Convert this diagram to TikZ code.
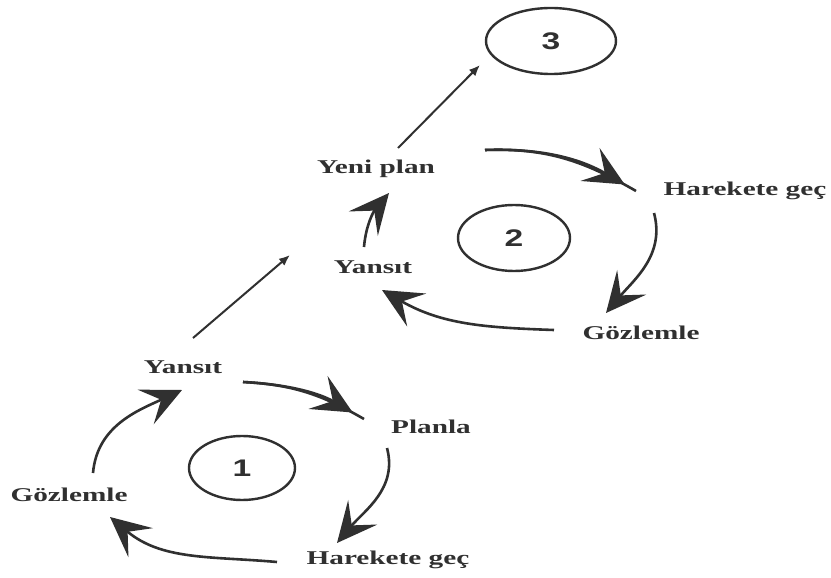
\documentclass[tikz,border=0pt]{standalone}
\usepackage{fontspec}
\usetikzlibrary{arrows.meta,shapes.geometric}
\newfontfamily\labfont[FakeStretch=1.5]{Liberation Serif}
\newfontfamily\numfont[FakeStretch=1.4]{Liberation Sans}
\definecolor{ink}{HTML}{303030}
\begin{document}
\begin{tikzpicture}[x=1pt,y=1pt,
  lab/.style={text=ink,inner sep=0pt,font=\labfont\bfseries\fontsize{19.5}{20}\selectfont},
  cyc/.style={draw=ink,line width=2.4pt,ellipse,minimum width=#1,minimum height=66pt,inner sep=0pt,
              font=\numfont\bfseries\fontsize{24}{24}\selectfont,text=ink},
  bighead/.style={-{Stealth[length=40pt,width=38pt,inset=17pt]}},
  % curved arrow with the head at its end
  turn/.style={draw=ink,line width=2.6pt,bighead},
  % curved arrow whose line runs on #1 past the head
  turnpast/.style={draw=ink,line width=2.6pt,
               postaction={draw=ink,line width=2.6pt,shorten >=#1,bighead}},
  lift/.style={draw=ink,line width=2pt,-{Latex[length=11pt,width=9pt]}}
]
\useasboundingbox (0,-578) rectangle (831,0);
\fill[white] (0,-578) rectangle (831,0);

% cycle numbers
\node[cyc=130pt] (n3) at (551,-41) {3};
\node[cyc=112pt] (n2) at (514,-238) {2};
\node[cyc=106pt,minimum height=64pt] (n1) at (242,-468) {1};

% first cycle labels
\node[lab] (y1) at (183,-367) {Yansıt};
\node[lab] (p1) at (431,-427) {Planla};
\node[lab] (h1) at (388,-560) {Harekete geç};
\node[lab] (g1) at (69,-495) {Gözlemle};

% second cycle labels
\node[lab] (yp2) at (376,-169) {Yeni plan};
\node[lab] (h2) at (745,-191) {Harekete geç};
\node[lab] (g2) at (641,-333) {Gözlemle};
\node[lab] (y2) at (373,-267) {Yansıt};

% end points of the connectors
\coordinate (a1s) at (243,-382); \coordinate (a1e) at (364,-419);
\coordinate (a2s) at (387,-448); \coordinate (a2e) at (337,-543);
\coordinate (a3s) at (277,-562); \coordinate (a3e) at (110,-517);
\coordinate (a4s) at (93,-473);  \coordinate (a4e) at (182,-390);
\coordinate (b1s) at (485,-150); \coordinate (b1e) at (636,-191);
\coordinate (b2s) at (654,-213); \coordinate (b2e) at (606,-313);
\coordinate (b3s) at (554,-330); \coordinate (b3e) at (382,-290);
\coordinate (b4s) at (364,-247); \coordinate (b4e) at (389,-193);
\coordinate (u1s) at (193,-338); \coordinate (u1e) at (290,-255);
\coordinate (u2s) at (398,-148); \coordinate (u2e) at (480,-65);

% first cycle
\draw[turnpast=13pt] (a1s) to[out=-3,in=150] (a1e);
\draw[turn] (a2s) to[out=-75,in=50] (a2e);
\draw[turn] (a3s) to[out=175,in=-40] (a3e);
\draw[turn] (a4s) to[out=85,in=205] (a4e);

% second cycle
\draw[turnpast=13pt] (b1s) to[out=2,in=150] (b1e);
\draw[turn] (b2s) to[out=-75,in=50] (b2e);
\draw[turn] (b3s) to[out=178,in=-30] (b3e);
\draw[turn] (b4s) to[out=85,in=230] (b4e);

% moving on to the next cycle
\draw[lift] (u1s) -- (u1e);
\draw[lift] (u2s) -- (u2e);
\end{tikzpicture}
\end{document}
